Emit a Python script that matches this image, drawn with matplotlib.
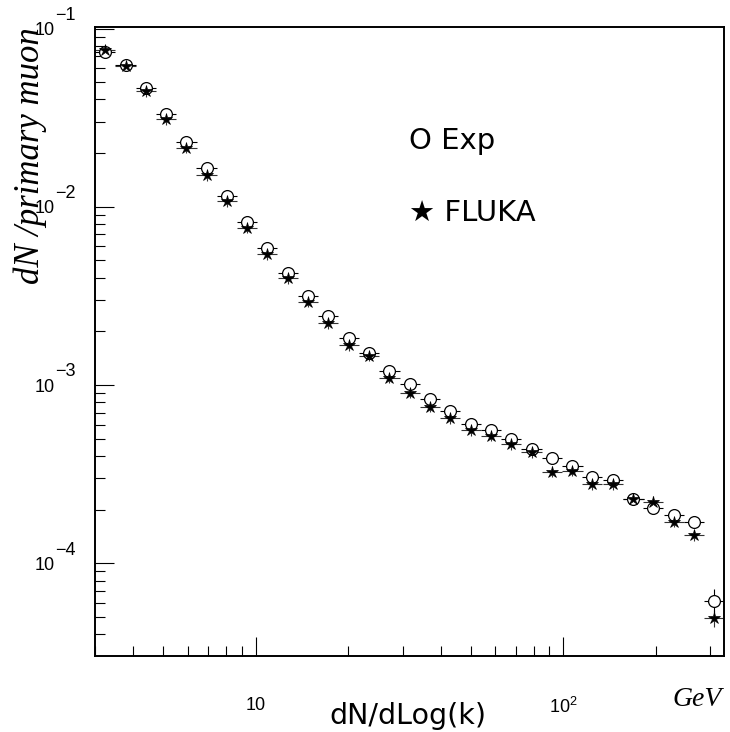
import matplotlib
matplotlib.use('Agg')
import matplotlib.pyplot as plt
import matplotlib.transforms as mtransforms
from matplotlib.ticker import FixedLocator, FixedFormatter, LogLocator, NullFormatter

plt.rcParams['font.family'] = ['Liberation Sans', 'DejaVu Sans']
plt.rcParams['mathtext.fontset'] = 'custom'
plt.rcParams['mathtext.rm'] = 'Liberation Sans'

# ---- data ----
energy = [3.24, 3.77, 4.39, 5.11, 5.95, 6.92, 8.06, 9.38, 10.9, 12.7, 14.8,
          17.2, 20.1, 23.4, 27.2, 31.7, 36.9, 42.9, 50.0, 58.2, 67.7, 78.8,
          91.8, 107, 124, 145, 169, 196, 229, 266, 310]

exp_vals = [0.0735, 0.0621, 0.0464, 0.0331, 0.0230, 0.0164, 0.01156, 0.00824,
            0.00589, 0.00423, 0.00316, 0.00244, 0.00183, 0.00151, 0.00120,
            0.00102, 0.000838, 0.000718, 0.000604, 0.000560, 0.000496,
            0.000436, 0.000388, 0.000352, 0.000303, 0.000293, 0.000230,
            0.000203, 0.000187, 0.000171, 6.17e-5]

fluka_vals = [0.0757, 0.0620, 0.0446, 0.0310, 0.0215, 0.0151, 0.01074, 0.00762,
              0.00543, 0.00397, 0.00293, 0.00222, 0.00168, 0.00146, 0.00110,
              0.000905, 0.000755, 0.000650, 0.000560, 0.000520, 0.000465,
              0.000420, 0.000327, 0.000330, 0.000277, 0.000277, 0.000230,
              0.000222, 0.000171, 0.000144, 4.92e-5]

exp_rel_err = [0.05, 0.05, 0.05, 0.05, 0.05, 0.05, 0.05, 0.05, 0.05, 0.05,
               0.05, 0.05, 0.05, 0.05, 0.05, 0.05, 0.05, 0.05, 0.05, 0.05,
               0.05, 0.05, 0.05, 0.05, 0.05, 0.05, 0.05, 0.05, 0.05, 0.05,
               0.17]
fluka_rel_err = [0.07, 0.07, 0.07, 0.07, 0.07, 0.07, 0.07, 0.07, 0.07, 0.07,
                 0.07, 0.07, 0.07, 0.07, 0.07, 0.07, 0.07, 0.07, 0.07, 0.07,
                 0.07, 0.07, 0.07, 0.07, 0.07, 0.07, 0.07, 0.07, 0.07, 0.07,
                 0.11]

y_major_ticks = [1e-4, 1e-3, 1e-2, 1e-1]
y_tick_bases = ['10', '10', '10', '10']
y_tick_exponents = ['\u22124', '\u22123', '\u22122', '\u22121']
x_major_ticks = [10, 100]
x_tick_labels = ['10', r'$\mathregular{10^{2}}$']

series_labels = ['O Exp', '\u2605 FLUKA']
x_title = 'dN/dLog(k)'
x_unit = 'GeV'
y_title = 'dN /primary muon'

# ---- figure ----
W, H = 730, 732
fig = plt.figure(figsize=(W / 100, H / 100), dpi=100)
L, R, T, B = 95, 724, 27, 656
ax = fig.add_axes([L / W, (H - B) / H, (R - L) / W, (B - T) / H])
ax.set_xscale('log')
ax.set_yscale('log')
ax.set_xlim(3.0, 333)
ax.set_ylim(3.02e-5, 0.102)

half_bin = 10 ** 0.033
xerr = [[x - x / half_bin for x in energy], [x * half_bin - x for x in energy]]
exp_yerr = [[v * e for v, e in zip(exp_vals, exp_rel_err)],
            [v * e for v, e in zip(exp_vals, exp_rel_err)]]
fl_yerr = [[v * e for v, e in zip(fluka_vals, fluka_rel_err)],
           [v * e for v, e in zip(fluka_vals, fluka_rel_err)]]

ax.errorbar(energy, fluka_vals, xerr=xerr, yerr=fl_yerr, fmt='none',
            ecolor='#333333', elinewidth=0.8, capsize=0, zorder=2)
ax.errorbar(energy, exp_vals, xerr=xerr, yerr=exp_yerr, fmt='none',
            ecolor='black', elinewidth=0.8, capsize=0, zorder=2)
ax.plot(energy, exp_vals, linestyle='none', marker='o', markersize=8.5,
        markerfacecolor='white', markeredgecolor='black', markeredgewidth=0.9,
        zorder=3)
ax.plot(energy, fluka_vals, linestyle='none', marker='*', markersize=9,
        markerfacecolor='black', markeredgecolor='black', markeredgewidth=0.5,
        zorder=4)

# ---- axes styling ----
for sp in ax.spines.values():
    sp.set_linewidth(1.4)
    sp.set_color('black')

ax.xaxis.set_major_locator(FixedLocator(x_major_ticks))
ax.xaxis.set_major_formatter(FixedFormatter(x_tick_labels))
ax.xaxis.set_minor_locator(LogLocator(base=10, subs=[2, 3, 4, 5, 6, 7, 8, 9]))
ax.xaxis.set_minor_formatter(NullFormatter())
ax.yaxis.set_major_locator(FixedLocator(y_major_ticks))
ax.yaxis.set_major_formatter(FixedFormatter(y_tick_bases))
ax.yaxis.set_minor_locator(LogLocator(base=10, subs=[2, 3, 4, 5, 6, 7, 8, 9]))
ax.yaxis.set_minor_formatter(NullFormatter())

ax.tick_params(axis='both', which='major', direction='in', length=13.5,
               width=0.8, labelsize=13, top=False, right=False)
ax.tick_params(axis='both', which='minor', direction='in', length=7,
               width=0.8, top=False, right=False)
ax.tick_params(axis='y', which='major', pad=28.8)
ax.tick_params(axis='x', which='major', pad=29.5)

# exponents of y tick labels
trans = mtransforms.blended_transform_factory(ax.transAxes, ax.transData)
for val, ex in zip(y_major_ticks, y_tick_exponents):
    ax.annotate(ex, xy=(0, val), xycoords=trans, xytext=(-28.8, 9.5),
                textcoords='offset points', ha='left', va='center',
                fontsize=13, annotation_clip=False)

# axis titles
ax.set_xlabel(x_title, fontsize=20.5, family='DejaVu Sans')
ax.xaxis.set_label_coords((408 - L) / (R - L), (B - 702) / (B - T))
ax.set_ylabel(y_title, fontsize=25, family='Liberation Serif', style='italic',
              loc='top')
ax.yaxis.set_label_coords((47 - L) / (R - L), 1.0)
ax.text((722 - L) / (R - L), (B - 706) / (B - T), x_unit, transform=ax.transAxes,
        ha='right', va='baseline', fontsize=20, family='Liberation Serif',
        style='italic')

# legend-like labels
ax.text((409 - L) / (R - L), (B - 141) / (B - T), series_labels[0],
        transform=ax.transAxes, ha='left', va='center', fontsize=21,
        family='DejaVu Sans')
ax.text((409 - L) / (R - L), (B - 213) / (B - T), series_labels[1],
        transform=ax.transAxes, ha='left', va='center', fontsize=21,
        family='DejaVu Sans')

fig.savefig('out.png', dpi=100)
